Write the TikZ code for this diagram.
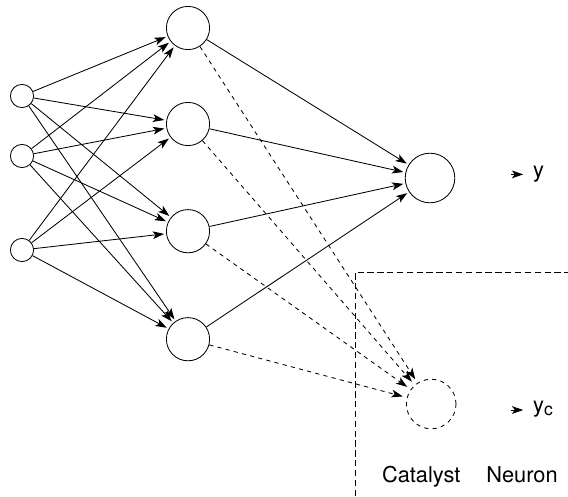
\documentclass[tikz,border=0pt]{standalone}
\usepackage{fontspec}
\setmainfont{TeX Gyre Heros}
\usetikzlibrary{arrows.meta}
\begin{document}
\begin{tikzpicture}[
        line width=0.6pt,
        inunit/.style={circle, draw, minimum size=0.58cm, inner sep=0pt},
        hidunit/.style={circle, draw, minimum size=1.08cm, inner sep=0pt},
        outunit/.style={circle, draw, minimum size=1.24cm, inner sep=0pt},
        arrow/.style={-{Stealth[length=8pt, width=5.5pt, inset=2pt]}, shorten >=1.5pt},
        catarrow/.style={arrow, dashed, shorten >=3pt},
        lbl/.style={font=\fontsize{15.5}{18}\selectfont, inner sep=0pt}
      ]
      \useasboundingbox (0,0) rectangle (14.2,12.4);

      % Input layer
      \node[inunit] (x1) at (0.55,10.0) {};
      \node[inunit] (x2) at (0.55,8.5) {};
      \node[inunit] (x3) at (0.55,6.15) {};

      % Hidden layer
      \node[hidunit] (h1) at (4.7,11.7) {};
      \node[hidunit] (h2) at (4.7,9.3) {};
      \node[hidunit] (h3) at (4.7,6.62) {};
      \node[hidunit] (h4) at (4.7,3.92) {};

      % Output and catalyst neurons
      \node[outunit] (out) at (10.75,7.95) {};
      \node[outunit, dashed] (cat) at (10.78,2.3) {};

      % Region of the catalyst neuron
      \coordinate (corner) at (8.88,5.6);
      \coordinate (boxright) at (14.2,5.6);
      \coordinate (boxbottom) at (8.88,0);
      \draw[dash pattern=on 4.5pt off 2.5pt, line width=0.5pt] (boxbottom) -- (corner) -- (boxright);

      % Output labels
      \node[lbl, anchor=base west] (ylab) at (13.32,7.96) {y};
      \node[lbl, anchor=base west] (yclab) at (13.32,2.1) {y\raisebox{-0.3ex}{\fontsize{12.5}{14}\selectfont c}};
      \coordinate (ya) at (12.78,8.04);
      \coordinate (yb) at (13.08,8.04);
      \coordinate (yca) at (12.78,2.15);
      \coordinate (ycb) at (13.08,2.15);
      \draw[arrow, shorten >=0pt] (ya) -- (yb);
      \draw[arrow, shorten >=0pt] (yca) -- (ycb);

      \node[lbl, anchor=base] (catlab) at (10.53,0.35) {Catalyst};
      \node[lbl, anchor=base] (neulab) at (13.05,0.35) {Neuron};

      % Input to hidden
      \draw[arrow] (x1) -- (h1);
      \draw[arrow] (x1) -- (h2);
      \draw[arrow] (x1) -- (h3);
      \draw[arrow] (x1) -- (h4);
      \draw[arrow] (x2) -- (h1);
      \draw[arrow] (x2) -- (h2);
      \draw[arrow] (x2) -- (h3);
      \draw[arrow] (x2) -- (h4);
      \draw[arrow] (x3) -- (h1);
      \draw[arrow] (x3) -- (h2);
      \draw[arrow] (x3) -- (h3);
      \draw[arrow] (x3) -- (h4);

      % Hidden to output
      \draw[arrow] (h1) -- (out);
      \draw[arrow] (h2) -- (out);
      \draw[arrow] (h3) -- (out);
      \draw[arrow] (h4) -- (out);

      % Hidden to catalyst
      \draw[catarrow] (h1) -- (cat);
      \draw[catarrow] (h2) -- (cat);
      \draw[catarrow] (h3) -- (cat);
      \draw[catarrow] (h4) -- (cat);
    \end{tikzpicture}
\end{document}
